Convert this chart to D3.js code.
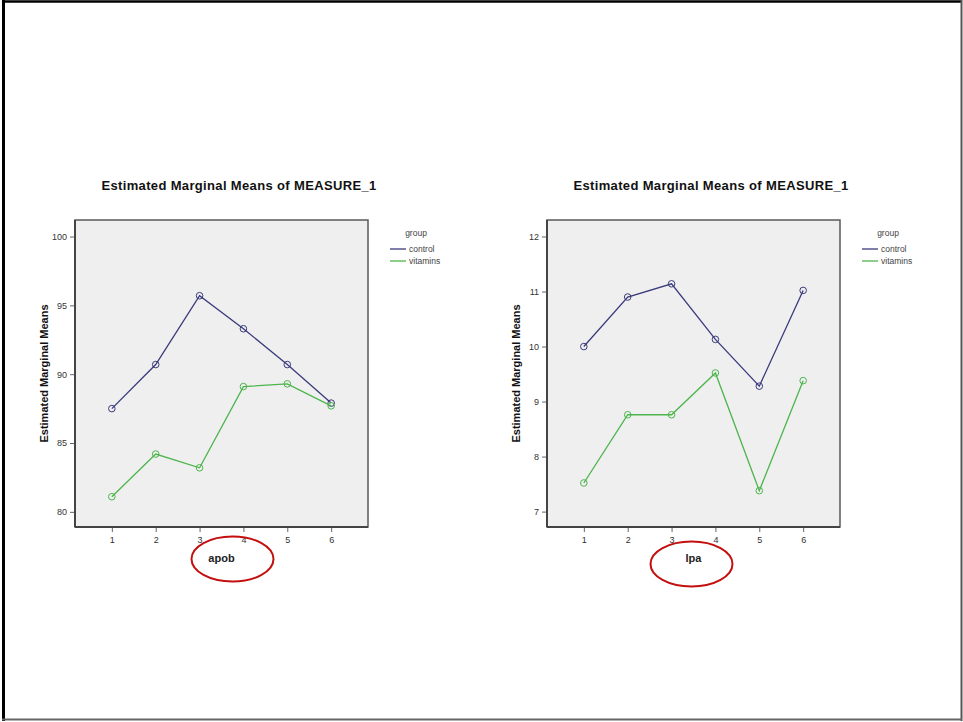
<!DOCTYPE html>
<html>
<head>
<meta charset="utf-8">
<script src="https://cdn.jsdelivr.net/npm/d3@7"></script>
<style>
    body { margin: 0; background: #fff; }
    text { font-family: "Liberation Sans", Arial, sans-serif; }
</style>
</head>
<body>
<div id="chart-area"></div>
<script>
// Data
var categories = [1, 2, 3, 4, 5, 6];
var groups = ["control", "vitamins"];

var apobControl  = [87.5, 90.7, 95.7, 93.3, 90.7, 87.9];
var apobVitamins = [81.1, 84.2, 83.2, 89.1, 89.3, 87.7];
var apobTicks = [80, 85, 90, 95, 100];

var lpaControl  = [10.0, 10.9, 11.14, 10.13, 9.28, 11.02];
var lpaVitamins = [7.52, 8.76, 8.76, 9.52, 7.38, 9.38];
var lpaTicks = [7, 8, 9, 10, 11, 12];

var colors = { control: "#3a3a7c", vitamins: "#4cb54c" };

var svg = d3.select("#chart-area")
    .append("svg")
    .attr("width", 963)
    .attr("height", 722);

// Slide border
svg.append("line").attr("x1", 3.5).attr("x2", 3.5).attr("y1", 0).attr("y2", 721)
    .attr("stroke", "#000").attr("stroke-width", 3);
svg.append("line").attr("x1", 2).attr("x2", 962).attr("y1", 1.5).attr("y2", 1.5)
    .attr("stroke", "#000").attr("stroke-width", 2.5);
svg.append("line").attr("x1", 961.5).attr("x2", 961.5).attr("y1", 0).attr("y2", 721)
    .attr("stroke", "#555").attr("stroke-width", 2);
svg.append("line").attr("x1", 2).attr("x2", 962).attr("y1", 719.5).attr("y2", 719.5)
    .attr("stroke", "#666").attr("stroke-width", 2);

function profilePlot(left, xTitle, control, vitamins, ticks, yDomain, ringDx, ringCy) {
    var top = 220, width = 293, height = 307;
    var g = svg.append("g").attr("transform", "translate(" + left + "," + top + ")");

    var x = d3.scalePoint().domain(categories).range([0, width]).padding(0.84);
    var y = d3.scaleLinear().domain(yDomain).range([height, 0]);

    // Plot area
    g.append("rect")
        .attr("width", width)
        .attr("height", height)
        .attr("fill", "#efefef")
        .attr("stroke", "#5a5a5a")
        .attr("stroke-width", 1.5);

    // Axes
    var yAxis = g.append("g")
        .call(d3.axisLeft(y).tickValues(ticks).tickSize(5).tickFormat(d3.format("d")));
    var xAxis = g.append("g")
        .attr("transform", "translate(0," + height + ")")
        .call(d3.axisBottom(x).tickSize(5).tickPadding(5));
    [xAxis, yAxis].forEach(function(a) {
        a.select(".domain").remove();
        a.selectAll(".tick line").attr("stroke", "#666");
        a.selectAll(".tick text")
            .attr("fill", "#333")
            .attr("font-size", "9px")
            .style("font-family", "'Liberation Sans', Arial, sans-serif");
    });
    g.append("line").attr("x1", 0).attr("x2", width).attr("y1", height).attr("y2", height)
        .attr("stroke", "#444").attr("stroke-width", 2);
    g.append("line").attr("x1", 0).attr("x2", 0).attr("y1", 0).attr("y2", height)
        .attr("stroke", "#444").attr("stroke-width", 2);

    // Titles
    g.append("text")
        .attr("x", 164)
        .attr("y", -30)
        .attr("text-anchor", "middle")
        .attr("font-size", "13px")
        .attr("font-weight", "bold")
        .attr("letter-spacing", "0.35px")
        .attr("fill", "#111")
        .text("Estimated Marginal Means of MEASURE_1");
    g.append("text")
        .attr("transform", "rotate(-90)")
        .attr("x", -height / 2)
        .attr("y", -27)
        .attr("text-anchor", "middle")
        .attr("font-size", "11px")
        .attr("font-weight", "bold")
        .attr("fill", "#111")
        .text("Estimated Marginal Means");
    g.append("text")
        .attr("x", width / 2)
        .attr("y", 342)
        .attr("text-anchor", "middle")
        .attr("font-size", "11px")
        .attr("font-weight", "bold")
        .attr("fill", "#222")
        .text(xTitle);

    // Red highlight around the x title
    g.append("ellipse")
        .attr("cx", width / 2 + ringDx)
        .attr("cy", ringCy)
        .attr("rx", 41)
        .attr("ry", 22.5)
        .attr("fill", "none")
        .attr("stroke", "#c40f0f")
        .attr("stroke-width", 2);

    // Lines and markers
    var line = d3.line()
        .x(function(d, i){ return x(categories[i]); })
        .y(function(d){ return y(d); });

    [["control", control], ["vitamins", vitamins]].forEach(function(s) {
        g.append("path")
            .attr("d", line(s[1]))
            .attr("fill", "none")
            .attr("stroke", colors[s[0]])
            .attr("stroke-width", 1.3);
        g.selectAll(".pt-" + s[0])
            .data(s[1])
            .enter().append("circle")
            .attr("cx", function(d, i){ return x(categories[i]); })
            .attr("cy", function(d){ return y(d); })
            .attr("r", 3.3)
            .attr("fill", "none")
            .attr("stroke", colors[s[0]])
            .attr("stroke-width", 1);
    });

    // Legend
    var lg = g.append("g").attr("transform", "translate(" + (width + 22) + ",0)");
    lg.append("text")
        .attr("x", 26)
        .attr("y", 16)
        .attr("text-anchor", "middle")
        .attr("font-size", "8.5px")
        .attr("fill", "#444")
        .text("group");
    groups.forEach(function(name, i) {
        lg.append("line")
            .attr("x1", 0).attr("x2", 16)
            .attr("y1", 29 + i * 12).attr("y2", 29 + i * 12)
            .attr("stroke", colors[name])
            .attr("stroke-width", 1.3);
        lg.append("text")
            .attr("x", 19)
            .attr("y", 32 + i * 12)
            .attr("font-size", "8.5px")
            .attr("fill", "#444")
            .text(name);
    });
}

profilePlot(75, "apob", apobControl, apobVitamins, apobTicks, [78.9, 101.2], 11, 339);
profilePlot(547, "lpa", lpaControl, lpaVitamins, lpaTicks, [6.72, 12.3], -2, 344);
</script>
</body>
</html>
